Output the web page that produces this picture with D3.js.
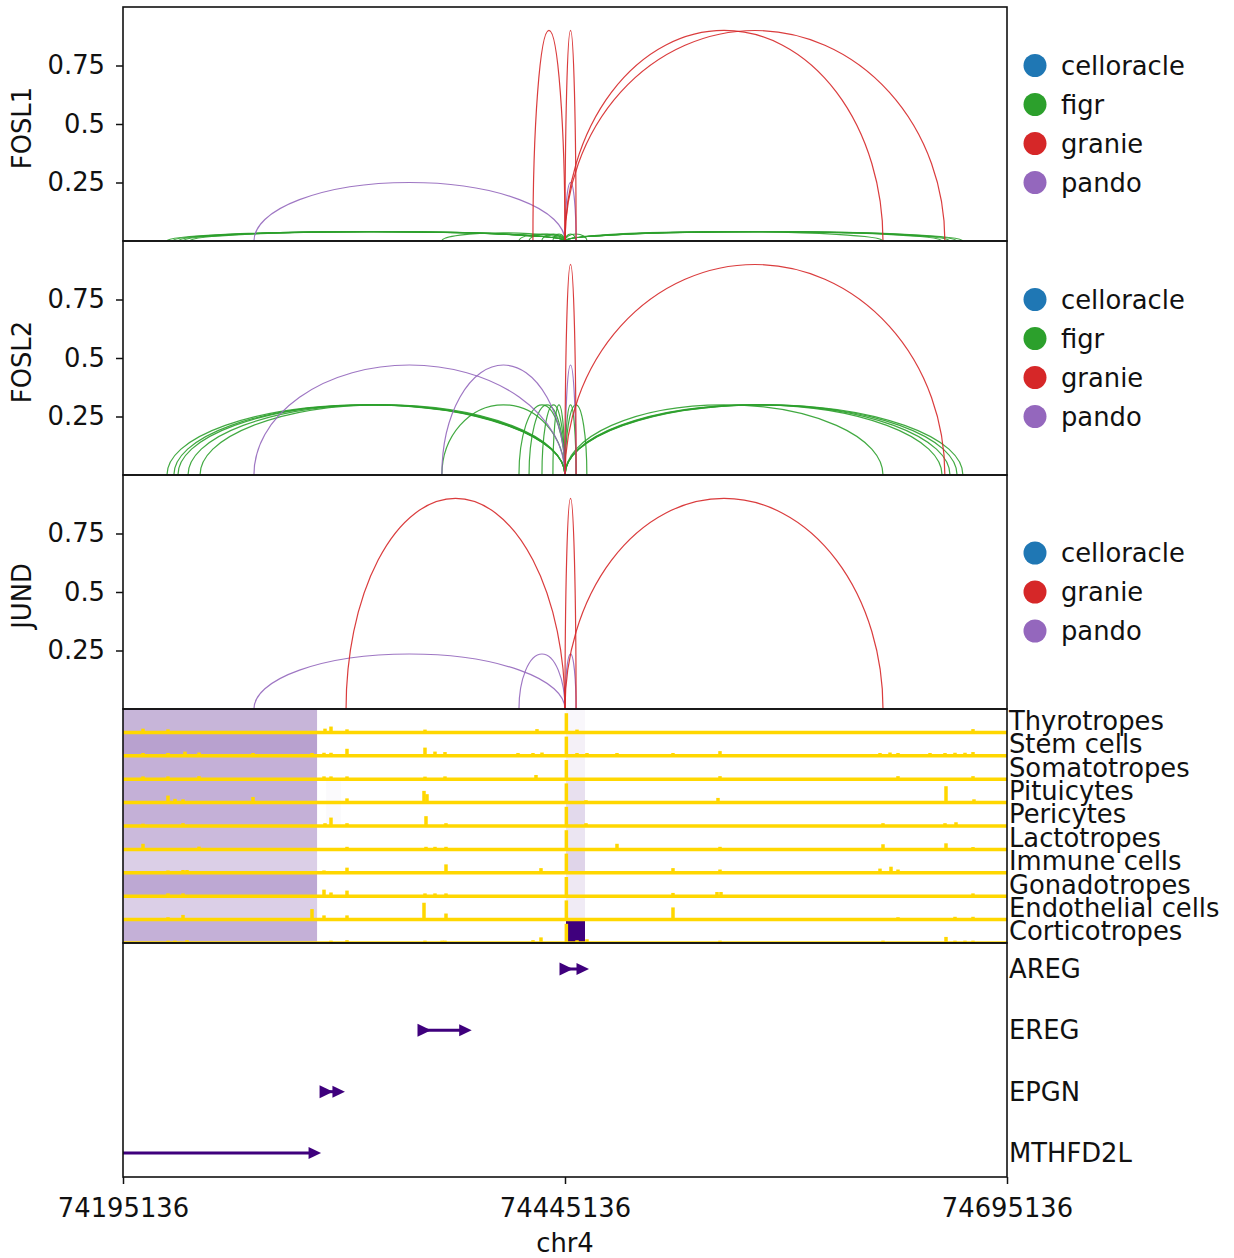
<!DOCTYPE html>
<html>
<head>
<meta charset="utf-8">
<script src="https://cdn.jsdelivr.net/npm/d3@7"></script>
<style>
    body { margin: 0; background: #fff; }
    text { font-family: "DejaVu Sans", sans-serif; }
</style>
</head>
<body>
<div id="chart"></div>
<script>

// genomic window
const xDomain = [74195136, 74695136];
const xTicks = [74195136, 74445136, 74695136];
const chromName = "chr4";
const tss = 74445136;

// methods / legend
const methodNames = ["celloracle", "figr", "granie", "pando"];
const methodColors = ["#1f77b4", "#2ca02c", "#d62728", "#9467bd"];

const tfNames = ["FOSL1", "FOSL2", "JUND"];
const tfLegends = [
    ["celloracle", "figr", "granie", "pando"],
    ["celloracle", "figr", "granie", "pando"],
    ["celloracle", "granie", "pando"]
];
const yTicks = [0.25, 0.5, 0.75];

// links peak -> tss : [peak position, score, method]
const fosl1Links = [
    [74220000, 0.04, "figr"], [74223000, 0.04, "figr"], [74226200, 0.04, "figr"],
    [74229000, 0.04, "figr"], [74233000, 0.04, "figr"], [74375500, 0.035, "figr"],
    [74419100, 0.03, "figr"], [74424800, 0.03, "figr"], [74432100, 0.03, "figr"],
    [74438300, 0.03, "figr"], [74451400, 0.03, "figr"], [74457500, 0.03, "figr"],
    [74625000, 0.04, "figr"], [74658400, 0.04, "figr"], [74662900, 0.04, "figr"],
    [74666900, 0.04, "figr"], [74670200, 0.04, "figr"],
    [74269200, 0.25, "pando"], [74451400, 0.25, "pando"],
    [74427000, 0.9, "granie"], [74451400, 0.9, "granie"],
    [74625000, 0.9, "granie"], [74660000, 0.9, "granie"]
];

const fosl2Links = [
    [74220000, 0.3, "figr"], [74223900, 0.3, "figr"], [74226200, 0.3, "figr"],
    [74231900, 0.3, "figr"], [74238700, 0.3, "figr"], [74375500, 0.3, "figr"],
    [74419100, 0.3, "figr"], [74424800, 0.3, "figr"], [74432100, 0.3, "figr"],
    [74438300, 0.3, "figr"], [74451400, 0.3, "figr"], [74457500, 0.3, "figr"],
    [74625000, 0.3, "figr"], [74658400, 0.3, "figr"], [74662900, 0.3, "figr"],
    [74666900, 0.3, "figr"], [74670200, 0.3, "figr"],
    [74269200, 0.47, "pando"], [74375500, 0.47, "pando"], [74451400, 0.47, "pando"],
    [74451400, 0.9, "granie"], [74660000, 0.9, "granie"]
];

const jundLinks = [
    [74269200, 0.235, "pando"], [74419100, 0.235, "pando"], [74451400, 0.235, "pando"],
    [74321300, 0.9, "granie"], [74451400, 0.9, "granie"], [74625000, 0.9, "granie"]
];

// accessibility tracks
const cellTypes = ["Thyrotropes", "Stem cells", "Somatotropes", "Pituicytes", "Pericytes",
    "Lactotropes", "Immune cells", "Gonadotropes", "Endothelial cells", "Corticotropes"];

// [position, normalised coverage] per cell type, same order as cellTypes
const cellCoverage = [
    [[74206448, 0.16], [74220588, 0.13], [74309389, 0.16], [74312783, 0.25], [74321833, 0.13],
     [74365947, 0.12], [74429295, 0.14], [74445900, 0.82], [74451923, 0.12], [74675906, 0.14]],
    [[74206448, 0.12], [74220588, 0.12], [74230203, 0.18], [74238122, 0.14], [74268665, 0.12],
     [74302036, 0.12], [74308824, 0.13], [74312783, 0.13], [74321833, 0.3], [74365947, 0.35],
     [74371603, 0.18], [74377259, 0.16], [74418548, 0.12], [74427032, 0.12], [74432123, 0.14],
     [74445900, 0.82], [74451923, 0.12], [74457578, 0.12], [74474546, 0.12], [74506219, 0.12],
     [74532803, 0.2], [74623303, 0.12], [74628959, 0.14], [74633484, 0.12], [74651584, 0.12],
     [74660068, 0.12], [74665725, 0.13], [74671381, 0.13], [74675906, 0.16]],
    [[74206448, 0.12], [74220588, 0.12], [74238122, 0.13], [74308824, 0.12], [74312783, 0.12],
     [74321833, 0.12], [74365947, 0.11], [74377259, 0.12], [74428729, 0.18], [74445900, 0.82],
     [74532803, 0.13], [74633484, 0.13], [74675906, 0.13]],
    [[74220588, 0.3], [74224548, 0.16], [74229072, 0.14], [74268665, 0.24], [74321833, 0.18],
     [74365383, 0.5], [74367078, 0.36], [74445900, 0.82], [74457013, 0.1], [74531672, 0.2],
     [74660634, 0.7], [74676471, 0.14]],
    [[74206448, 0.1], [74229072, 0.12], [74309389, 0.12], [74312783, 0.36], [74321833, 0.12],
     [74366513, 0.42], [74377825, 0.12], [74445900, 0.82], [74457013, 0.12], [74625000, 0.12],
     [74660068, 0.12], [74666290, 0.16]],
    [[74206448, 0.24], [74238122, 0.12], [74321833, 0.11], [74366513, 0.11], [74371603, 0.11],
     [74377825, 0.11], [74445900, 0.82], [74474546, 0.24], [74532803, 0.11], [74625000, 0.22],
     [74660634, 0.26], [74675906, 0.1]],
    [[74220588, 0.1], [74229072, 0.12], [74231334, 0.12], [74308824, 0.1], [74321833, 0.22],
     [74377825, 0.36], [74431557, 0.2], [74445900, 0.82], [74506219, 0.2], [74532803, 0.14],
     [74623303, 0.18], [74629525, 0.26], [74633484, 0.14]],
    [[74220588, 0.12], [74229072, 0.12], [74308824, 0.28], [74312783, 0.16], [74321833, 0.24],
     [74365947, 0.12], [74371603, 0.12], [74377825, 0.12], [74445900, 0.82], [74506219, 0.14],
     [74531106, 0.18], [74533369, 0.18], [74675906, 0.12]],
    [[74220588, 0.1], [74229072, 0.2], [74302036, 0.45], [74308824, 0.18], [74321833, 0.18],
     [74365383, 0.72], [74377825, 0.26], [74445900, 0.82], [74506219, 0.52], [74633484, 0.1],
     [74665725, 0.12], [74675906, 0.12]],
    [[74220588, 0.1], [74224548, 0.1], [74231334, 0.12], [74312783, 0.1], [74321833, 0.12],
     [74365947, 0.1], [74375562, 0.1], [74377259, 0.1], [74427032, 0.12], [74431557, 0.24],
     [74445900, 0.82], [74451923, 0.12], [74457578, 0.16], [74532803, 0.1], [74625000, 0.1],
     [74660634, 0.26], [74665725, 0.1], [74671381, 0.1], [74675906, 0.1]]
];

// genes
const geneNames = ["AREG", "EREG", "EPGN", "MTHFD2L"];
const geneStarts = [74445700, 74365400, 74310000, 74100000];
const geneEnds = [74456448, 74390100, 74318400, 74304900];

// expression per gene, same order as cellTypes
const geneExpression = [
    [0.03, 0.06, 0.05, 0.12, 0.15, 0.10, 0.17, 0.09, 0.08, 1.0],
    [0, 0, 0, 0, 0, 0, 0, 0, 0, 0],
    [0, 0, 0, 0.02, 0.02, 0, 0, 0, 0, 0],
    [0.29, 0.37, 0.31, 0.31, 0.31, 0.27, 0.19, 0.34, 0.19, 0.31]
];


class LinkTrackChart {

    constructor(opts) {

        this.element = opts.element;
        this.config = opts.config;
    }

    draw() {

        const c = this.config;

        this.svg = d3.select(this.element).append("svg")
            .attr("width", c.width)
            .attr("height", c.height)
            .style("display", "block")
            .style("background", "#fff");

        this.x = d3.scaleLinear()
            .domain(xDomain)
            .range([c.left, c.right]);

        this.color = d3.scaleOrdinal()
            .domain(methodNames)
            .range(methodColors);

        const links = [fosl1Links, fosl2Links, jundLinks];
        tfNames.forEach((tf, i) => this.drawArcPanel(i, tf, links[i], tfLegends[i]));

        this.drawTrackPanel(3);
        this.drawGenePanel(4);
        this.drawXAxis();
    }

    panelSpan(i) {
        const c = this.config;
        return [c.top + i * c.panelHeight, c.top + (i + 1) * c.panelHeight];
    }

    addClip(i) {
        const c = this.config;
        const [y0, y1] = this.panelSpan(i);
        this.svg.append("clipPath")
            .attr("id", "panel-clip-" + i)
            .append("rect")
            .attr("x", c.left)
            .attr("y", y0)
            .attr("width", c.right - c.left)
            .attr("height", y1 - y0);
        return this.svg.append("g").attr("clip-path", "url(#panel-clip-" + i + ")");
    }

    addFrame(i) {
        const c = this.config;
        const [y0, y1] = this.panelSpan(i);
        this.svg.append("rect")
            .attr("x", c.left)
            .attr("y", y0)
            .attr("width", c.right - c.left)
            .attr("height", y1 - y0)
            .attr("fill", "none")
            .attr("stroke", "#111")
            .attr("stroke-width", 1.6);
    }

    drawArcPanel(i, tf, links, legend) {

        const c = this.config;
        const [y0, y1] = this.panelSpan(i);
        const y = d3.scaleLinear().domain([0, 1]).range([y1, y0]);
        const g = this.addClip(i);

        g.selectAll("path").data(links).enter()
            .append("path")
            .attr("d", d => {
                const a = this.x(Math.min(d[0], tss));
                const b = this.x(Math.max(d[0], tss));
                const ry = y(0) - y(d[1]);
                return "M" + a + "," + y(0) + "A" + ((b - a) / 2) + "," + ry + " 0 0 1 " + b + "," + y(0);
            })
            .attr("fill", "none")
            .attr("stroke", d => this.color(d[2]))
            .attr("stroke-width", 1.2)
            .attr("stroke-opacity", 0.9);

        const yAxis = d3.axisLeft(y)
            .tickValues(yTicks)
            .tickSize(7)
            .tickPadding(11)
            .tickFormat(d => String(d));

        const ag = this.svg.append("g")
            .attr("transform", "translate(" + c.left + ",0)")
            .call(yAxis)
            .attr("font-family", "DejaVu Sans")
            .attr("font-size", c.fontSize);
        ag.select(".domain").remove();
        ag.selectAll("line").attr("stroke", "#111").attr("stroke-width", 1.5);
        ag.selectAll("text").attr("fill", "#111");

        this.svg.append("text")
            .attr("transform", "translate(22," + ((y0 + y1) / 2 + 4) + ") rotate(-90)")
            .attr("text-anchor", "middle")
            .attr("dominant-baseline", "central")
            .attr("font-size", c.fontSize)
            .attr("fill", "#111")
            .text(tf);

        // legend, centred on the panel
        const step = 39;
        const ly = (y0 + y1) / 2 - (legend.length - 1) * step / 2;
        const lg = this.svg.append("g").selectAll("g").data(legend).enter()
            .append("g")
            .attr("transform", (d, k) => "translate(" + (c.right + 28) + "," + (ly + k * step) + ")");
        lg.append("circle")
            .attr("r", 11.5)
            .attr("fill", d => this.color(d));
        lg.append("text")
            .attr("x", 26)
            .attr("dominant-baseline", "central")
            .attr("font-size", c.fontSize)
            .attr("fill", "#111")
            .text(d => d);

        this.addFrame(i);
    }

    drawTrackPanel(i) {

        const c = this.config;
        const [y0, y1] = this.panelSpan(i);
        const band = d3.scaleBand().domain(cellTypes).range([y0, y1]);
        const bw = band.bandwidth();
        const g = this.addClip(i);

        // expression heatmap behind the tracks, spanning each gene body
        geneNames.forEach((gene, gi) => {
            g.append("g").selectAll("rect").data(cellTypes).enter()
                .append("rect")
                .attr("x", this.x(geneStarts[gi]))
                .attr("width", this.x(geneEnds[gi]) - this.x(geneStarts[gi]))
                .attr("y", d => band(d))
                .attr("height", bw)
                .attr("fill", c.geneColor)
                .attr("fill-opacity", (d, k) => geneExpression[gi][k]);
        });

        cellTypes.forEach((ct, k) => {
            const base = band(ct) + bw;
            const row = g.append("g");
            row.selectAll("rect").data(cellCoverage[k]).enter()
                .append("rect")
                .attr("x", d => this.x(d[0]) - 1.75)
                .attr("width", 3.5)
                .attr("y", d => base - d[1] * bw)
                .attr("height", d => d[1] * bw)
                .attr("fill", c.trackColor);
            row.append("line")
                .attr("x1", c.left)
                .attr("x2", c.right)
                .attr("y1", base)
                .attr("y2", base)
                .attr("stroke", c.trackColor)
                .attr("stroke-width", 3.5);
        });

        this.svg.append("g").selectAll("text").data(cellTypes).enter()
            .append("text")
            .attr("x", c.right + 2)
            .attr("y", d => band(d) + bw / 2)
            .attr("dominant-baseline", "central")
            .attr("font-size", c.fontSize)
            .attr("fill", "#111")
            .text(d => d);

        this.addFrame(i);
    }

    drawGenePanel(i) {

        const c = this.config;
        const [y0, y1] = this.panelSpan(i);
        const y = d3.scalePoint().domain(geneNames).range([y0 + 26, y1 - 24]);
        const g = this.addClip(i);

        geneNames.forEach((gene, gi) => {
            const xs = this.x(geneStarts[gi]);
            const xe = this.x(geneEnds[gi]) + 4;
            const gy = y(gene);
            g.append("line")
                .attr("x1", xs)
                .attr("x2", xe - 8)
                .attr("y1", gy)
                .attr("y2", gy)
                .attr("stroke", c.geneColor)
                .attr("stroke-width", 3);
            g.append("path")
                .attr("d", "M" + (xs - 6.5) + "," + (gy - 6.5) + "L" + (xs + 7) + "," + gy + "L" + (xs - 6.5) + "," + (gy + 6.5) + "Z")
                .attr("fill", c.geneColor);
            g.append("path")
                .attr("d", "M" + (xe - 12.5) + "," + (gy - 6) + "L" + xe + "," + gy + "L" + (xe - 12.5) + "," + (gy + 6) + "Z")
                .attr("fill", c.geneColor);
        });

        this.svg.append("g").selectAll("text").data(geneNames).enter()
            .append("text")
            .attr("x", c.right + 2)
            .attr("y", d => y(d))
            .attr("dominant-baseline", "central")
            .attr("font-size", c.fontSize)
            .attr("fill", "#111")
            .text(d => d);

        this.addFrame(i);
    }

    drawXAxis() {

        const c = this.config;
        const bottom = this.panelSpan(4)[1];

        const xAxis = d3.axisBottom(this.x)
            .tickValues(xTicks)
            .tickSize(7)
            .tickPadding(15)
            .tickFormat(d3.format("d"));

        const ag = this.svg.append("g")
            .attr("transform", "translate(0," + bottom + ")")
            .call(xAxis)
            .attr("font-family", "DejaVu Sans")
            .attr("font-size", c.fontSize);
        ag.select(".domain").remove();
        ag.selectAll("line").attr("stroke", "#111").attr("stroke-width", 1.5);
        ag.selectAll("text").attr("fill", "#111");

        this.svg.append("text")
            .attr("x", (c.left + c.right) / 2)
            .attr("y", bottom + 75)
            .attr("text-anchor", "middle")
            .attr("font-size", c.fontSize)
            .attr("fill", "#111")
            .text(chromName);
    }
}

const chart = new LinkTrackChart({
    element: document.getElementById("chart"),
    config: {
        width: 1234,
        height: 1258,
        left: 123,
        right: 1007,
        top: 7,
        panelHeight: 234,
        fontSize: 25.8,
        trackColor: "#ffd700",
        geneColor: "#3f007d"
    }
});
chart.draw();
</script>
</body>
</html>
